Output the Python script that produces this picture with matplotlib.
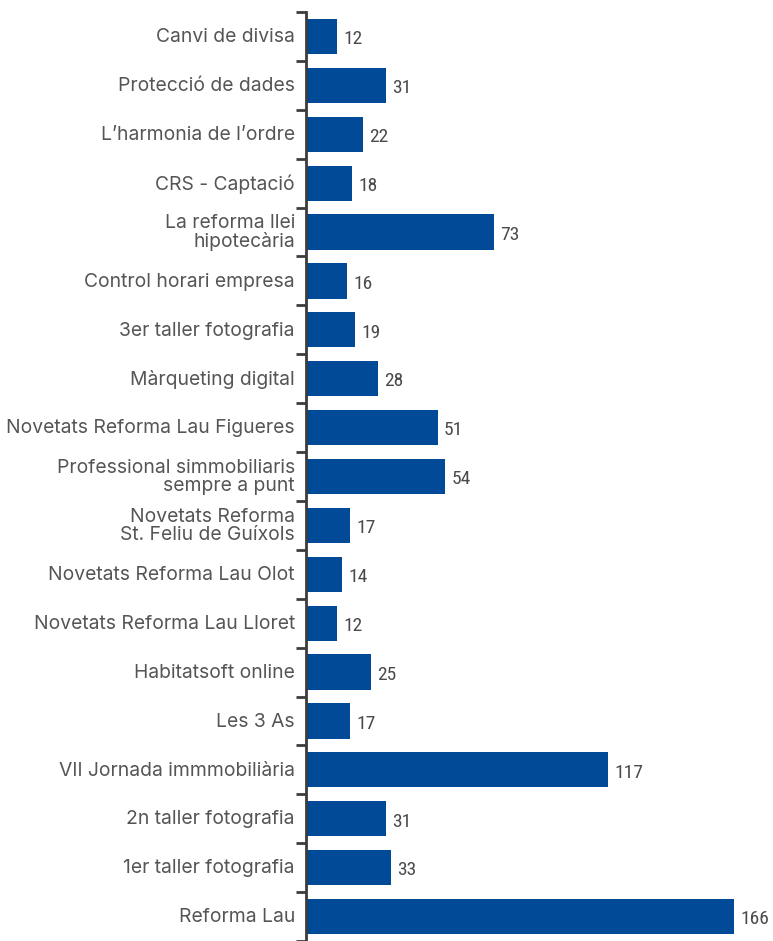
import matplotlib.pyplot as plt
import numpy as np

categories = [
    "Canvi de divisa",
    "Protecció de dades",
    "L'harmonia de l'ordre",
    "CRS - Captació",
    "La reforma llei\nhipotecària",
    "Control horari empresa",
    "3er taller fotografia",
    "Màrqueting digital",
    "Novetats Reforma Lau Figueres",
    "Professional simmobiliaris\nsempre a punt",
    "Novetats Reforma\nSt. Feliu de Guíxols",
    "Novetats Reforma Lau Olot",
    "Novetats Reforma Lau Lloret",
    "Habitatsoft online",
    "Les 3 As",
    "VII Jornada immmobiliària",
    "2n taller fotografia",
    "1er taller fotografia",
    "Reforma Lau",
]
values = [12, 31, 22, 18, 73, 16, 19, 28, 51, 54, 17, 14, 12, 25, 17, 117, 31, 33, 166]

categories = [c.replace("'", "\u2019") for c in categories]

BAR_COLOR = "#004a97"
TEXT_COLOR = "#555555"
AXIS_COLOR = "#3c3c3c"

W, H = 773, 941
fig = plt.figure(figsize=(W / 100, H / 100), dpi=100)
ax = fig.add_axes([306 / W, 0, 467 / W, 929 / H])

n = len(categories)
y = np.arange(n)
ax.barh(y, values, height=0.72, color=BAR_COLOR)
ax.set_ylim(n - 0.5, -0.5)
ax.set_xlim(0, 181)

for yi, v in zip(y, values):
    ax.annotate(str(v), (v, yi), xytext=(4.5, -2), textcoords="offset points",
                va="center", ha="left", fontsize=14,
                family=["Roboto Condensed", "Roboto"],
                color="#4a4a4a")

for yi, c in zip(y, categories):
    ax.annotate(c, (0, yi), xytext=(-8, -0.5), textcoords="offset points",
                va="center", ha="right", fontsize=13.9, family="Inter",
                color=TEXT_COLOR, linespacing=1.0)

ax.set_yticks(np.arange(n + 1) - 0.5)
ax.set_yticklabels([])
ax.tick_params(axis="y", length=7, width=2, color=AXIS_COLOR, direction="out")
ax.set_xticks([])
for side in ["top", "right", "bottom"]:
    ax.spines[side].set_visible(False)
ax.spines["left"].set_color(AXIS_COLOR)
ax.spines["left"].set_linewidth(2)

fig.savefig("out.png", dpi=100)
